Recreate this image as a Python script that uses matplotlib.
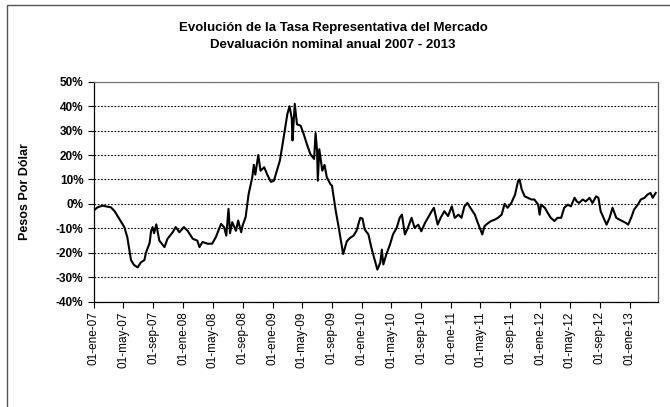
import numpy as np
import matplotlib.pyplot as plt
import matplotlib.dates as mdates
from matplotlib.patches import Rectangle
from datetime import datetime

plt.rcParams['font.family'] = ['Liberation Sans', 'DejaVu Sans']

# months elapsed since 01-ene-2007, and annual devaluation in %
months = [0.0, 0.5, 1.2, 1.6, 2.3, 2.8, 3.4, 4.1, 4.5, 5.0, 5.4, 5.9, 6.3, 6.8,
          7.0, 7.5, 7.7, 7.9, 8.1, 8.4, 8.8, 9.5, 9.9, 10.6, 11.0, 11.5, 12.1,
          12.6, 13.3, 13.9, 14.2, 14.6, 15.3, 15.9, 16.4, 17.1, 17.5, 17.8,
          18.1, 18.3, 18.6, 19.1, 19.4, 19.8, 20.0, 20.4, 20.8, 21.3, 21.5,
          21.7, 22.1, 22.4, 22.9, 23.3, 23.8, 24.2, 24.6, 25.0, 25.5, 26.0,
          26.3, 26.6, 26.7, 27.0, 27.3, 27.8, 28.2, 28.7, 29.1, 29.6, 29.8,
          30.0, 30.1, 30.3, 30.7, 31.0, 31.3, 31.8, 32.0, 32.5, 32.9, 33.2,
          33.5, 34.0, 34.4, 34.9, 35.3, 35.8, 36.1, 36.4, 36.9, 37.3, 37.8,
          38.1, 38.5, 38.7, 38.9, 39.3, 39.8, 40.2, 40.7, 41.1, 41.4, 41.8,
          42.2, 42.7, 43.1, 43.6, 44.0, 44.5, 44.9, 45.4, 45.7, 46.2, 46.6,
          47.1, 47.6, 48.1, 48.5, 49.0, 49.4, 49.8, 50.2, 50.6, 51.2, 51.6,
          52.2, 52.5, 53.0, 53.4, 53.9, 54.3, 54.8, 55.2, 55.6, 56.1, 56.6,
          57.0, 57.2, 57.5, 57.9, 58.3, 58.8, 59.2, 59.7, 59.9, 60.1, 60.6,
          61.0, 61.4, 61.9, 62.3, 62.8, 63.2, 63.7, 64.1, 64.6, 64.9, 65.2,
          65.7, 66.1, 66.6, 67.0, 67.5, 67.8, 68.1, 68.6, 68.9, 69.3, 69.7,
          70.2, 70.6, 71.0, 71.5, 71.8, 72.2, 72.6, 73.1, 73.5, 74.0, 74.4,
          74.8, 75.1, 75.5]
devaluacion = [-2.7, -1.4, -0.7, -1.0, -1.4, -3.0, -6.0, -9.5, -13.6, -23.0,
               -25.0, -26.0, -24.0, -23.0, -20.0, -16.0, -11.0, -9.5, -12.0,
               -8.4, -15.0, -17.7, -14.3, -11.6, -9.5, -11.6, -9.5, -11.0,
               -14.3, -15.0, -17.7, -15.6, -16.3, -16.3, -13.6, -8.2, -9.5,
               -13.0, -2.0, -12.0, -7.5, -11.0, -6.8, -11.6, -8.8, -5.4, 4.0,
               11.0, 16.0, 12.0, 20.0, 13.6, 15.0, 12.0, 9.0, 9.5, 13.6, 17.7,
               27.0, 36.7, 40.0, 35.0, 26.0, 41.0, 32.6, 32.0, 28.6, 23.8,
               20.4, 18.4, 29.0, 21.8, 9.5, 22.4, 13.6, 16.0, 11.0, 8.0, 7.5,
               -2.7, -9.5, -15.0, -20.5, -15.3, -14.0, -13.0, -11.0, -5.7,
               -6.0, -10.5, -12.5, -18.0, -23.5, -26.9, -24.0, -18.7, -24.8,
               -20.7, -16.6, -12.5, -9.8, -5.7, -4.4, -12.5, -9.8, -5.7, -9.8,
               -8.5, -11.2, -7.8, -5.7, -3.0, -1.6, -8.5, -5.7, -3.0, -5.0,
               -1.0, -5.7, -4.4, -5.7, -1.0, 0.4, -1.6, -4.4, -7.8, -12.5,
               -9.1, -7.8, -7.0, -6.4, -5.7, -4.4, 0.0, -1.6, 0.4, 3.8, 9.3,
               10.0, 5.9, 3.1, 2.5, 1.8, 1.8, -0.3, -4.4, -0.3, -1.6, -3.7,
               -5.7, -7.0, -5.7, -5.7, -1.6, -0.3, -1.0, 2.5, 1.0, 0.4, 1.8,
               1.0, 2.5, 0.4, 3.1, 2.5, -3.0, -6.4, -8.5, -5.7, -1.6, -5.7,
               -6.4, -7.0, -7.8, -8.5, -5.7, -2.3, -0.3, 1.8, 2.5, 3.8, 4.5,
               2.5, 4.5]

tick_dates = ['2007-01-01', '2007-05-01', '2007-09-01', '2008-01-01',
              '2008-05-01', '2008-09-01', '2009-01-01', '2009-05-01',
              '2009-09-01', '2010-01-01', '2010-05-01', '2010-09-01',
              '2011-01-01', '2011-05-01', '2011-09-01', '2012-01-01',
              '2012-05-01', '2012-09-01', '2013-01-01']
tick_labels = ['01-ene-07', '01-may-07', '01-sep-07', '01-ene-08',
               '01-may-08', '01-sep-08', '01-ene-09', '01-may-09',
               '01-sep-09', '01-ene-10', '01-may-10', '01-sep-10',
               '01-ene-11', '01-may-11', '01-sep-11', '01-ene-12',
               '01-may-12', '01-sep-12', '01-ene-13']

base = mdates.date2num(datetime(2007, 1, 1))
x = base + np.array(months) * 30.44
ticks = [mdates.date2num(datetime.strptime(d, '%Y-%m-%d')) for d in tick_dates]

fig = plt.figure(figsize=(6.7, 4.07), dpi=100)
ax = fig.add_axes([0.140, 0.259, 0.842, 0.540])

ax.plot(x, devaluacion, color='black', linewidth=1.5)

ax.set_ylim(-40, 50)
ax.set_yticks(np.arange(-40, 51, 10))
ax.set_yticklabels(['%d%%' % v for v in range(-40, 51, 10)],
                   fontsize=8.5, fontweight='bold')
ax.set_xlim(base, base + 75.8 * 30.44)
ax.set_xticks(ticks)
ax.set_xticklabels(tick_labels, rotation=90, fontsize=8.5)
ax.tick_params(axis='both', direction='out', length=4, width=0.8, colors='black')
ax.tick_params(axis='x', pad=3)

ax.grid(True, axis='y', linestyle=(0, (1.5, 1.5)), linewidth=0.8, color='black')
ax.set_axisbelow(True)
for s in ax.spines.values():
    s.set_linewidth(0.9)
ax.spines['top'].set_color('#777777')
ax.spines['right'].set_color('#555555')

ax.set_ylabel('Pesos Por Dólar', fontsize=9, fontweight='bold')
ax.yaxis.set_label_coords(-0.112, 0.5)

fig.text(0.497, 0.93, 'Evolución de la Tasa Representativa del Mercado',
         ha='center', va='center', fontsize=9.5, fontweight='bold')
fig.text(0.497, 0.889, 'Devaluación nominal anual 2007 - 2013',
         ha='center', va='center', fontsize=9.5, fontweight='bold')

fig.patches.append(Rectangle((7 / 670, -0.02), 1.0, 1 - 5 / 407 + 0.02,
                             transform=fig.transFigure, fill=False,
                             edgecolor='#555555', linewidth=1.0))

fig.savefig('out.png', dpi=100)
